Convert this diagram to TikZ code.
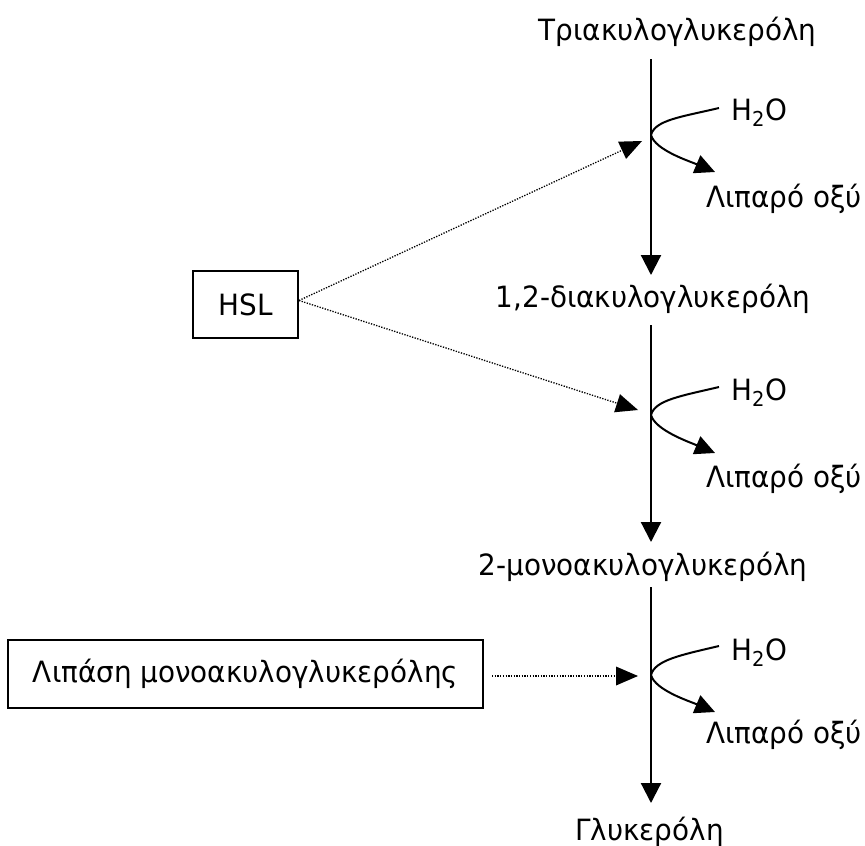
\documentclass[tikz,border=0pt]{standalone}
\usepackage{fontspec}
\setmainfont{DejaVu Sans}[FakeStretch=0.95]
\usetikzlibrary{arrows.meta}
\begin{document}
\begin{tikzpicture}[x=1pt,y=-1pt,
  txt/.style={font=\fontsize{29.3}{35}\selectfont, inner sep=0pt, anchor=base},
  sidetxt/.style={font=\fontsize{29.3}{35}\selectfont, inner sep=0pt, anchor=base west},
  enzbox/.style={draw, line width=2pt, font=\fontsize{29.3}{35}\selectfont, inner sep=0pt},
  mainarrow/.style={line width=2.2pt, -{Triangle[length=20pt,width=20pt]}},
  fattyarrow/.style={line width=2pt, -{Triangle[length=20pt,width=19pt]}},
  waterline/.style={line width=2pt},
  dotarrow/.style={line width=1.3pt, dash pattern=on 1.3pt off 1.4pt, -{Triangle[length=22pt,width=19pt,line width=0pt]}}
]
\useasboundingbox (0,0) rectangle (865,846);

% main compounds
\node[txt] (tag) at (677.5,40) {Τριακυλογλυκερόλη};
\node[txt] (dag) at (653,307) {1,2-διακυλογλυκερόλη};
\node[txt] (mag) at (643,575) {2-μονοακυλογλυκερόλη};
\node[txt] (gly) at (649.5,840) {Γλυκερόλη};

% enzymes
\node[enzbox, minimum width=105pt, minimum height=67pt] (hsl) at (245.5,304.5) {HSL};
\node[enzbox, minimum width=475pt, minimum height=68pt] (mgl) at (245.5,674) {Λιπάση μονοακυλογλυκερόλης};

% coordinates for the main chain
\coordinate (s1) at (651,59);  \coordinate (j1) at (651,135); \coordinate (e1) at (651,275);
\coordinate (s2) at (651,325); \coordinate (j2) at (651,415); \coordinate (e2) at (651,542);
\coordinate (s3) at (651,587); \coordinate (j3) at (651,675); \coordinate (e3) at (651,803);

\draw[mainarrow] (s1) -- (e1);
\draw[mainarrow] (s2) -- (e2);
\draw[mainarrow] (s3) -- (e3);

% water and fatty acid branches
\foreach \j/\w/\f/\wy/\fy in {1/120/207/108/172, 2/400/487/387/453, 3/660/743/646/712}{
  \node[sidetxt] (h2o\j) at (731,\w) {H\textsubscript{2}O};
  \node[sidetxt] (fa\j) at (706,\f) {Λιπαρό οξύ};
  \coordinate (wend\j) at (719,\wy);
  \coordinate (fend\j) at (715,\fy);
  \draw[waterline] (j\j) .. controls +(4,-15) and +(-38,9) .. (wend\j);
  \draw[fattyarrow] (j\j) .. controls +(4,15) and +(-26,-11) .. (fend\j);
}

% enzyme action arrows
\coordinate (t1) at (642,141);
\coordinate (t2) at (638,410);
\coordinate (t3) at (638,676);
\coordinate (m3) at (492,676);
\draw[dotarrow] ([yshift=4pt]hsl.east) -- (t1);
\draw[dotarrow] ([yshift=4pt]hsl.east) -- (t2);
\draw[dotarrow] (m3) -- (t3);
\end{tikzpicture}
\end{document}
